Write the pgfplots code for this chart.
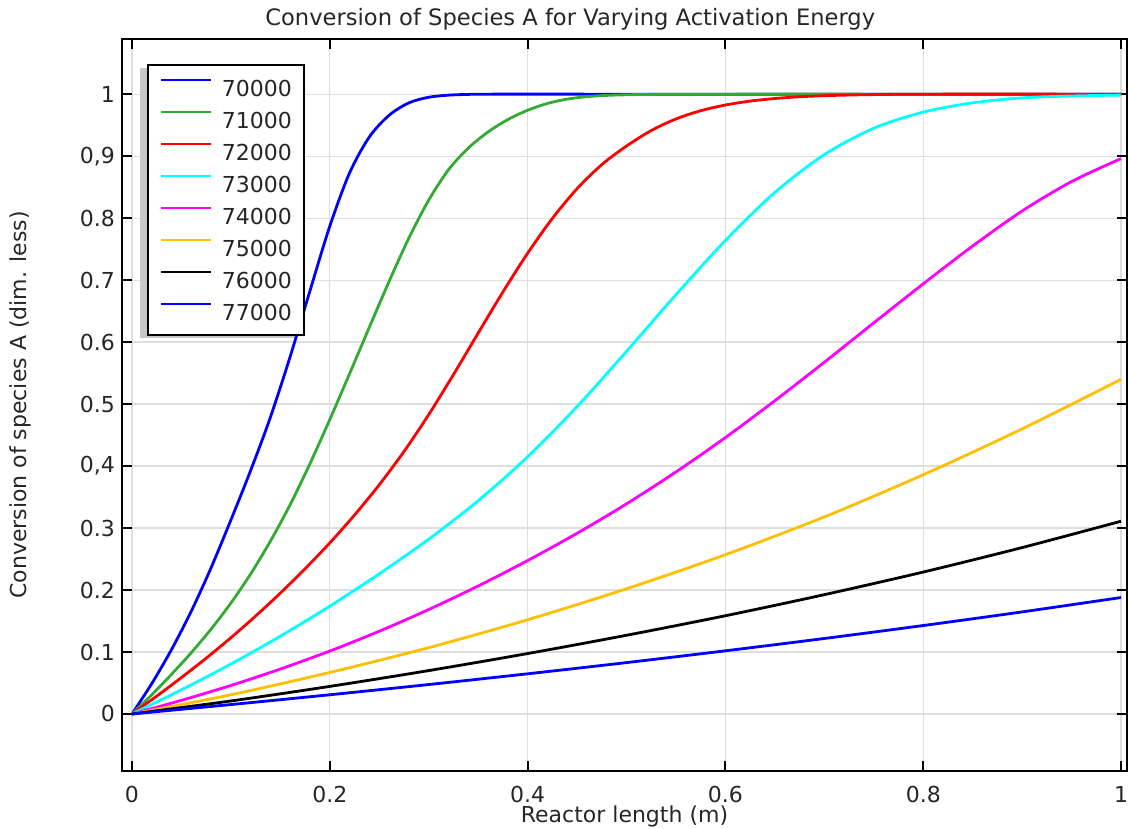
\documentclass[border=0pt]{standalone}
\usepackage{fontspec}
\setmainfont{DejaVu Sans}
\usepackage{pgfplots}
\pgfplotsset{compat=1.18}

\definecolor{cBlue}{RGB}{0,0,255}
\definecolor{cGreen}{RGB}{51,170,51}
\definecolor{cRed}{RGB}{255,0,0}
\definecolor{cCyan}{RGB}{0,255,255}
\definecolor{cMag}{RGB}{255,0,255}
\definecolor{cOrange}{RGB}{255,191,0}
\definecolor{gridgray}{RGB}{222,222,222}

\begin{document}
\begin{tikzpicture}
\begin{axis}[
  width=502.5pt, height=366pt, scale only axis,
  xmin=-0.0101, xmax=1.006,
  ymin=-0.092, ymax=1.089,
  xtick={0,0.2,0.4,0.6,0.8,1},
  xticklabels={0,0.2,0.4,0.6,0.8,1},
  ytick={0,0.1,0.2,0.3,0.4,0.5,0.6,0.7,0.8,0.9,1},
  yticklabels={0,0.1,0.2,0.3,{0,4},0.5,0.6,0.7,0.8,{0,9},1},
  tick align=inside,
  major tick length=5pt,
  major tick style={line width=1pt, black},
  axis line style={line width=1pt},
  grid=major,
  major grid style={gridgray, line width=0.6pt},
  tick label style={font=\fontsize{11}{13}\selectfont, text=black!85},
  /pgf/number format/assume math mode=true,
  xticklabel style={yshift=-4pt},
  title={Conversion of Species A for Varying Activation Energy},
  title style={at={(0.446,1)}, anchor=base, yshift=0.5pt, font=\fontsize{11.3}{13}\selectfont, text=black!85},
  xlabel={Reactor length (m)},
  xlabel style={at={(0.5,0)}, anchor=base, yshift=-25.5pt, font=\fontsize{11}{13}\selectfont, text=black!85},
  ylabel={Conversion of species A (dim. less)},
  ylabel style={at={(-0.1015,0.5)}, anchor=center, font=\fontsize{11}{13}\selectfont, text=black!85},
  legend cell align=left,
  legend image code/.code={\draw[#1, line width=1pt] (0pt,4pt) -- (25pt,4pt);},
  legend style={at={(0,1)}, anchor=north west, xshift=12.5pt, yshift=-12.5pt,
    draw=black, line width=1pt, fill=white,
    inner xsep=6pt, inner ysep=7.25pt, column sep=5pt, row sep=7.5pt,
    font=\fontsize{11}{13}\selectfont, text=black!85,
    nodes={inner sep=0pt, text height=8pt, text depth=0pt}},
  every axis plot/.append style={line width=1.4pt, smooth},
]
\coordinate (sw) at (rel axis cs:0,0);
\coordinate (ne) at (rel axis cs:1,1);
% legend shadow
\fill[black!22] (rel axis cs:0.0179,0.5915) rectangle (rel axis cs:0.1731,0.9604);

% 70000
\addplot[cBlue] coordinates {
(0,0) (0.02,0.049) (0.04,0.104) (0.06,0.166) (0.08,0.236) (0.10,0.313)
(0.12,0.393) (0.14,0.479) (0.16,0.577) (0.18,0.683) (0.20,0.787)
(0.22,0.873) (0.24,0.931) (0.26,0.966) (0.28,0.986) (0.30,0.995)
(0.32,0.9984) (0.34,0.9996) (0.36,1.0) (0.5,1.0) (0.75,1.0) (1.0,1.0)};
% 71000
\addplot[cGreen] coordinates {
(0,0) (0.02,0.031) (0.04,0.064) (0.06,0.099) (0.08,0.137) (0.10,0.179)
(0.12,0.226) (0.14,0.279) (0.16,0.338) (0.18,0.404) (0.20,0.475)
(0.22,0.549) (0.24,0.624) (0.26,0.698) (0.28,0.768) (0.30,0.829)
(0.32,0.878) (0.34,0.913) (0.36,0.939) (0.38,0.959) (0.40,0.974)
(0.42,0.985) (0.44,0.992) (0.46,0.996) (0.48,0.998) (0.50,0.999)
(0.53,0.9997) (0.60,1.0) (0.8,1.0) (1.0,1.0)};
% 72000
\addplot[cRed] coordinates {
(0,0) (0.025,0.0288) (0.05,0.0588) (0.075,0.090) (0.10,0.123) (0.125,0.158)
(0.15,0.195) (0.175,0.2343) (0.20,0.276) (0.225,0.321) (0.25,0.3698)
(0.275,0.4235) (0.30,0.483) (0.325,0.5475) (0.35,0.6145) (0.375,0.6808)
(0.40,0.7433) (0.425,0.7995) (0.45,0.8475) (0.475,0.8863) (0.50,0.9163)
(0.525,0.9413) (0.55,0.960) (0.575,0.9733) (0.60,0.9825) (0.625,0.9888)
(0.65,0.993) (0.675,0.9958) (0.70,0.9975) (0.725,0.9986) (0.75,0.9993)
(0.775,0.9998) (0.80,1.0) (1.0,1.0)};
% 73000
\addplot[cCyan] coordinates {
(0,0) (0.05,0.039) (0.10,0.0805) (0.15,0.1255) (0.20,0.174) (0.25,0.226)
(0.30,0.282) (0.35,0.344) (0.40,0.415) (0.45,0.496) (0.50,0.585)
(0.55,0.6765) (0.60,0.764) (0.65,0.8415) (0.70,0.9025) (0.75,0.945)
(0.80,0.971) (0.85,0.986) (0.90,0.994) (0.95,0.997) (1.0,0.9985)};
% 74000
\addplot[cMag] coordinates {
(0,0) (0.05,0.022) (0.10,0.046) (0.15,0.0725) (0.20,0.1015) (0.25,0.1335)
(0.30,0.1685) (0.35,0.2065) (0.40,0.2475) (0.45,0.2915) (0.50,0.339)
(0.55,0.3905) (0.60,0.446) (0.65,0.5055) (0.70,0.5675) (0.75,0.631)
(0.80,0.694) (0.85,0.755) (0.90,0.8115) (0.95,0.859) (1.0,0.896)};
% 75000
\addplot[cOrange] coordinates {
(0,0) (0.1,0.031) (0.2,0.067) (0.3,0.107) (0.4,0.152) (0.5,0.202)
(0.6,0.257) (0.7,0.318) (0.8,0.386) (0.9,0.460) (1.0,0.540)};
% 76000
\addplot[black] coordinates {
(0,0) (0.1,0.021) (0.2,0.0445) (0.3,0.070) (0.4,0.0975) (0.5,0.127)
(0.6,0.1585) (0.7,0.1925) (0.8,0.229) (0.9,0.2685) (1.0,0.311)};
% 77000
\addplot[cBlue] coordinates {
(0,0) (0.1,0.0152) (0.2,0.031) (0.3,0.0475) (0.4,0.0648) (0.5,0.0829)
(0.6,0.1019) (0.7,0.1218) (0.8,0.1427) (0.9,0.1647) (1.0,0.1879)};

\legend{70000,71000,72000,73000,74000,75000,76000,77000}
\end{axis}
\pgfresetboundingbox
\path ([shift={(-61pt,-29pt)}]sw) rectangle ([shift={(1pt,19.5pt)}]ne);
\end{tikzpicture}
\end{document}
